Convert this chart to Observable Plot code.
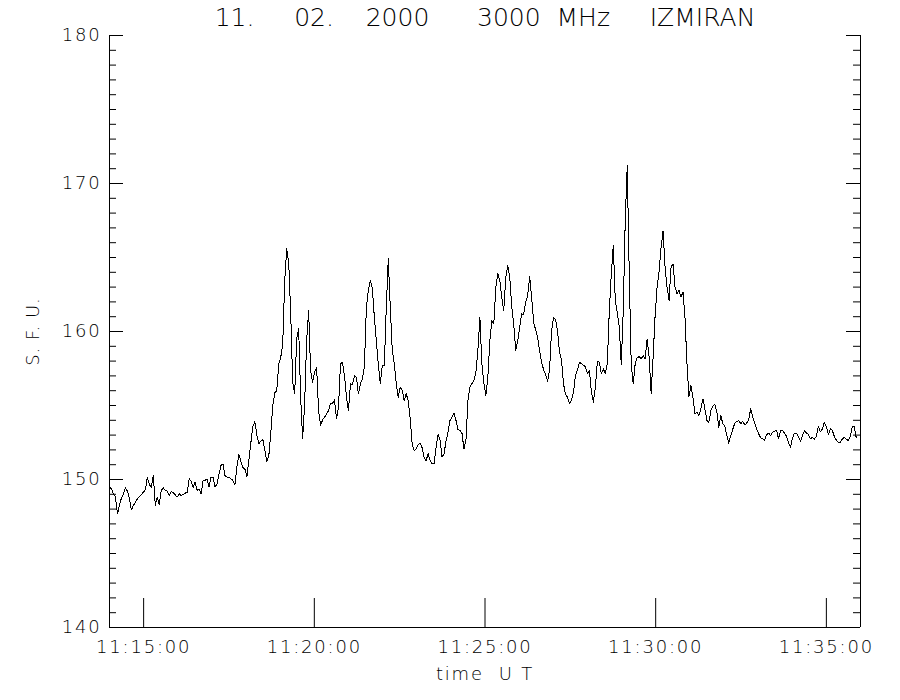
<!DOCTYPE html>
<html>
<head>
<meta charset="utf-8">
<script src="https://cdn.jsdelivr.net/npm/d3@7"></script>
<script src="https://cdn.jsdelivr.net/npm/@observablehq/plot@0.6"></script>
<style>
  body { margin: 0; background: #ffffff; }
  #chart svg text { font-family: "DejaVu Sans", sans-serif; font-weight: 200; fill: #000000; }
  g[aria-label="y-axis tick label"] text,
  g[aria-label="x-axis tick label"] text,
  g[aria-label="x-axis label"] text { letter-spacing: 1.8px; }
  g[aria-label="y-axis label"] text { letter-spacing: 1px; }
  g[aria-label="line"] path { shape-rendering: crispEdges; }
</style>
</head>
<body>
<div id="chart"></div>
<script>
// ---------- data ----------
const titleText = "11." + "\u00a0".repeat(5) + "02." + "\u00a0".repeat(4) + "2000" +
                  "\u00a0".repeat(6) + "3000" + "\u00a0".repeat(2) + "MHz" +
                  "\u00a0".repeat(5) + "IZMIRAN";
const yLabel = "S.\u00a0F.\u00a0U.";
const xLabel = "time\u00a0\u00a0U\u00a0T";

const startTime = "2000-02-11T11:14:00Z";
const endTime   = "2000-02-11T11:36:00Z";
const sampleStepSeconds = 3.5;   // one reading every 3.5 s starting at startTime

// solar flux at 3000 MHz, s.f.u.
const sfu = [
  149.48,149.37,149.03,148.81,147.68,148.25,148.76,149.03,149.44,149.21,
  148.69,147.95,148.25,148.47,148.69,148.85,148.99,149.14,149.30,150.16,
  149.66,149.48,150.29,148.25,148.81,148.31,149.26,149.44,149.26,149.21,
  148.92,149.21,149.10,148.97,148.81,149.03,148.90,148.99,149.08,149.12,
  150.05,149.89,149.48,149.82,149.26,149.37,149.03,149.93,149.93,150.05,
  149.48,150.16,150.16,149.48,149.71,150.38,150.95,151.06,150.27,150.16,
  150.16,150.05,149.93,149.66,
  150.90,151.70,151.20,150.80,150.70,150.20,151.30,152.50,153.60,153.90,
  153.00,152.40,152.60,152.70,152.00,151.20,151.60,153.10,155.00,
  155.85,156.01,157.81,158.26,159.16,163.44,165.58,164.68,161.19,156.57,
  155.78,159.50,160.18,155.56,152.74,155.11,159.39,161.41,157.36,156.57,
  157.25,157.59,154.66,153.64,154.03,154.21,154.43,154.66,155.15,155.15,
  155.38,154.09,154.88,157.81,157.92,157.02,155.56,154.66,156.46,156.41,
  157.00,156.91,155.78,
  156.47,156.80,157.59,161.65,162.77,163.45,162.88,160.97,159.39,157.77,
  156.47,157.70,157.70,161.65,164.91,161.65,158.72,157.82,156.47,155.56,
  156.24,156.02,155.34,155.79,155.34,154.10,152.41,151.96,152.07,152.37,
  152.46,152.14,151.51,151.28,151.74,151.28,151.06,151.06,152.19,153.04,
  152.64,151.51,151.74,152.59,153.20,153.99,154.21,154.48,153.99,153.36,
  153.31,153.13,152.07,152.64,155.34,156.24,156.47,156.69,157.25,158.72,
  160.97,157.82,
  156.51,155.70,156.92,159.39,160.74,160.52,163.00,163.90,163.45,162.28,
  161.42,163.67,164.46,163.67,161.65,160.52,158.72,159.39,160.29,161.20,
  161.15,161.98,162.43,163.72,162.32,160.63,160.11,159.57,158.72,157.93,
  157.41,157.10,156.65,157.37,160.07,160.92,160.79,160.07,158.60,158.04,
  156.47,155.74,155.56,155.11,155.38,155.90,157.03,157.41,157.93,157.82,
  157.70,157.64,157.14,157.37,155.90,155.23,156.24,158.00,157.93,157.14,
  157.48,157.14,157.82,
  161.42,163.90,165.81,162.10,161.31,160.29,157.76,161.42,167.50,171.20,
  164.00,157.82,156.46,157.82,158.22,158.31,158.15,158.38,158.15,159.50,
  158.27,155.83,158.27,161.08,163.00,164.08,165.70,166.80,164.35,163.00,
  162.10,164.35,164.57,163.00,162.55,162.77,162.32,162.66,160.97,157.82,
  155.61,156.35,155.56,154.44,154.53,154.32,154.77,155.45,154.77,153.99,
  153.87,154.66,154.96,155.07,154.55,153.54,154.32,153.76,
  153.60,153.00,
  152.46,152.97,153.40,153.81,153.92,153.99,153.76,153.94,153.69,153.81,
  154.03,154.78,154.21,153.85,153.42,153.09,152.82,152.75,152.64,153.04,
  153.13,152.97,153.20,153.27,153.31,152.75,153.31,153.31,153.13,152.91,
  152.46,152.19,152.82,153.13,153.13,152.91,152.59,152.97,153.31,153.13,
  153.04,152.75,152.86,152.73,152.91,153.58,153.24,153.42,153.87,153.58,
  153.04,153.42,153.31,152.91,152.66,152.50,152.50,152.73,152.86,152.73,
  152.64,152.91,153.58,153.60,152.82
];

const yTickLabels = [140, 150, 160, 170, 180];
const xTickLabels = ["11:15:00", "11:20:00", "11:25:00", "11:30:00", "11:35:00"];

// ---------- build ----------
const t0 = new Date(startTime);
const tEnd = new Date(endTime);
const data = sfu.map((v, i) => ({time: new Date(+t0 + i * sampleStepSeconds * 1000), sfu: v}));
const xTicks = xTickLabels.map(s => new Date(`2000-02-11T${s}Z`));
const yMinor = d3.range(yTickLabels[0], yTickLabels[yTickLabels.length - 1] + 1, 1);

const W = 900, H = 700, ML = 109, MR = 40, MT = 35, MB = 73;
const frameW = W - ML - MR, frameH = H - MT - MB;
const minorLen = 7, majorLen = 14, xTickLen = 29;

const chart = Plot.plot({
  width: W, height: H,
  marginLeft: ML, marginRight: MR, marginTop: MT, marginBottom: MB,
  style: {fontFamily: "DejaVu Sans", fontSize: "18px", background: "#ffffff", color: "#000000", overflow: "visible"},
  x: {type: "utc", domain: [t0, tEnd]},
  y: {domain: [yTickLabels[0], yTickLabels[yTickLabels.length - 1]]},
  marks: [
    // frame: left, right, bottom (no top line)
    Plot.ruleX([t0, tEnd], {x: d => d, stroke: "black", strokeWidth: 1}),
    Plot.ruleY([yTickLabels[0]], {y: d => d, stroke: "black", strokeWidth: 1}),
    // y ticks, left and right, pointing inward
    Plot.tickY(yMinor, {y: d => d, insetRight: frameW - minorLen, stroke: "black"}),
    Plot.tickY(yTickLabels, {y: d => d, insetRight: frameW - majorLen, stroke: "black"}),
    Plot.tickY(yMinor, {y: d => d, insetLeft: frameW - minorLen, stroke: "black"}),
    Plot.tickY(yTickLabels, {y: d => d, insetLeft: frameW - majorLen, stroke: "black"}),
    // x ticks pointing up from the bottom
    Plot.tickX(xTicks, {x: d => d, insetTop: frameH - xTickLen, stroke: "black"}),
    // axis labels
    Plot.axisY(yTickLabels, {
      anchor: "left", tickSize: 0, tickPadding: 8, fontSize: 18,
      label: yLabel, labelAnchor: "center", labelOffset: 83, labelArrow: "none"
    }),
    Plot.axisX(xTicks, {
      anchor: "bottom", tickSize: 0, tickPadding: 13, fontSize: 18,
      tickFormat: d3.utcFormat("%H:%M:%S"),
      label: xLabel, labelAnchor: "center", labelOffset: 52, labelArrow: "none"
    }),
    // title
    Plot.text([titleText], {text: d => d, frameAnchor: "top", dy: -10, lineAnchor: "bottom", fontSize: 25}),
    // the record
    Plot.line(data, {x: "time", y: "sfu", stroke: "black", strokeWidth: 1})
  ]
});
document.getElementById("chart").appendChild(chart);
</script>
</body>
</html>
